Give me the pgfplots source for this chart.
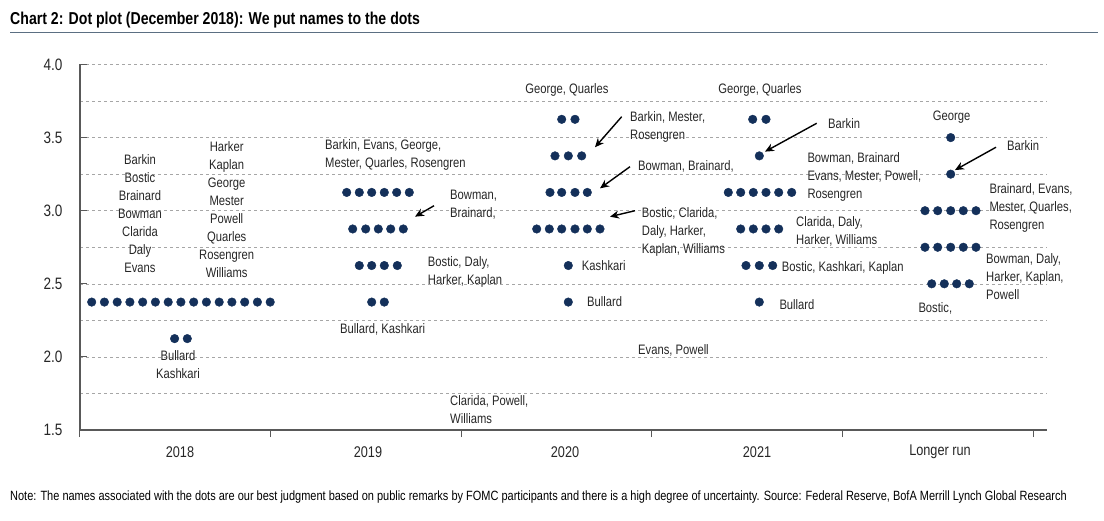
\documentclass[border=0pt]{standalone}
\usepackage{fontspec}
\setmainfont{Liberation Sans}[FakeStretch=0.82]
\usepackage{pgfplots}
\pgfplotsset{compat=1.18}
\usepackage{pgfplotstable}
\usetikzlibrary{arrows.meta}
\definecolor{dotblue}{HTML}{14305A}
\definecolor{gridgray}{HTML}{A6A6A6}
\definecolor{axisgray}{HTML}{595959}
\definecolor{rulegray}{HTML}{5B6F82}

% x = horizontal position (layout, pixel units), y = rate (%)
\pgfplotstableread{
x y
91.7 2.375
104.4 2.375
117.2 2.375
129.9 2.375
142.7 2.375
155.4 2.375
168.2 2.375
180.9 2.375
193.7 2.375
206.4 2.375
219.2 2.375
231.9 2.375
244.7 2.375
257.4 2.375
270.2 2.375
174.6 2.125
187.3 2.125
}\yearA
\pgfplotstableread{
x y
346.7 3.125
359.3 3.125
371.7 3.125
384.3 3.125
396.7 3.125
409.3 3.125
352.7 2.875
365.7 2.875
378.3 2.875
390.7 2.875
403.3 2.875
359.3 2.625
371.7 2.625
384.3 2.625
397.3 2.625
371.7 2.375
384.3 2.375
}\yearB
\pgfplotstableread{
x y
561.7 3.625
575.0 3.625
555.0 3.375
568.3 3.375
581.7 3.375
550.0 3.125
561.7 3.125
575.0 3.125
587.3 3.125
536.7 2.875
549.3 2.875
561.7 2.875
575.0 2.875
587.3 2.875
600.0 2.875
568.3 2.625
568.3 2.375
}\yearC
\pgfplotstableread{
x y
752.7 3.625
766.0 3.625
759.3 3.375
728.3 3.125
740.7 3.125
753.3 3.125
766.0 3.125
778.7 3.125
791.7 3.125
740.7 2.875
753.3 2.875
766.0 2.875
778.7 2.875
746.0 2.625
759.3 2.625
772.7 2.625
759.3 2.375
}\yearD
\pgfplotstableread{
x y
950.7 3.50
950.7 3.25
925.0 3.00
937.7 3.00
950.7 3.00
963.3 3.00
976.0 3.00
925.0 2.75
937.7 2.75
950.7 2.75
963.3 2.75
976.0 2.75
931.7 2.50
944.3 2.50
956.7 2.50
969.3 2.50
}\yearE

\begin{document}
\begin{tikzpicture}[
  lab/.style={font=\fontsize{13.7}{18}\selectfont, inner sep=0pt, align=left, anchor=west, text=black!85},
  ctr/.style={font=\fontsize{13.7}{18}\selectfont, inner sep=0pt, align=center, anchor=center, text=black!85},
  arr/.style={-{Stealth[length=9pt,width=8pt]}, line width=1.4pt, black}
]
\useasboundingbox (0,0) rectangle (1104pt,520pt);
\node[anchor=west, inner sep=0pt, font=\fontsize{17.2}{20}\selectfont\bfseries] at (10pt,500pt) {Chart 2: Dot plot (December 2018): We put names to the dots};
\draw[rulegray, line width=1pt] (10pt,487pt) -- (1098pt,487pt);
\node[anchor=west, inner sep=0pt, font=\fontsize{13.4}{15}\selectfont] at (10pt,23pt) {Note: The names associated with the dots are our best judgment based on public remarks by FOMC participants and there is a high degree of uncertainty. Source: Federal Reserve, BofA Merrill Lynch Global Research};

\begin{axis}[
  at={(80pt,90pt)}, anchor=south west,
  scale only axis, width=966.7pt, height=365.5pt,
  xmin=80, xmax=1046.7, ymin=1.5, ymax=4.0,
  clip=false,
  axis x line*=bottom, axis y line*=left,
  axis line style={draw=axisgray, line width=1.3pt},
  xtick={80,270.7,461.7,651.7,842.7,1033.3},
  xticklabels={},
  x tick style={draw=axisgray, line width=1pt},
  xtick pos=bottom,
  tick align=outside,
  major tick length=7pt,
  ytick={1.5,2.0,2.5,3.0,3.5,4.0},
  y tick style={draw=axisgray, line width=1pt},
  ytick align=inside,
  minor ytick={1.75,2.25,2.75,3.25,3.75},
  minor tick length=0pt,
  ymajorgrids, yminorgrids,
  major grid style={gridgray, dashed, line width=0.6pt},
  minor grid style={gridgray, dashed, line width=0.6pt},
  yticklabel style={font=\fontsize{16.5}{18}\selectfont, text=black!85, xshift=-14pt},
  /pgf/number format/assume math mode=true,
  /pgf/number format/.cd, fixed, fixed zerofill, precision=1,
]
\addplot[only marks, mark=*, mark size=4.3pt, color=dotblue] table {\yearA};
\addplot[only marks, mark=*, mark size=4.3pt, color=dotblue] table {\yearB};
\addplot[only marks, mark=*, mark size=4.3pt, color=dotblue] table {\yearC};
\addplot[only marks, mark=*, mark size=4.3pt, color=dotblue] table {\yearD};
\addplot[only marks, mark=*, mark size=4.3pt, color=dotblue] table {\yearE};

% category labels
\node[ctr, font=\fontsize{15.5}{18}\selectfont] at (axis cs:180,1.5) [yshift=-22pt] {2018};
\node[ctr, font=\fontsize{15.5}{18}\selectfont] at (axis cs:368,1.5) [yshift=-22pt] {2019};
\node[ctr, font=\fontsize{15.5}{18}\selectfont] at (axis cs:565,1.5) [yshift=-22pt] {2020};
\node[ctr, font=\fontsize{15.5}{18}\selectfont] at (axis cs:757,1.5) [yshift=-22pt] {2021};
\node[ctr, font=\fontsize{15.5}{18}\selectfont] at (axis cs:940,1.5) [yshift=-22pt] {Longer run};

% 2018
\node[ctr] at (axis cs:140,2.977) {Barkin\\Bostic\\Brainard\\Bowman\\Clarida\\Daly\\Evans};
\node[ctr] at (axis cs:226.7,3.006) {Harker\\Kaplan\\George\\Mester\\Powell\\Quarles\\Rosengren\\Williams};
\node[ctr] at (axis cs:178,1.946) {Bullard\\Kashkari};

% 2019
\node[lab] at (axis cs:325,3.382) {Barkin, Evans, George,\\Mester, Quarles, Rosengren};
\node[lab] at (axis cs:450,3.042) {Bowman,\\Brainard,};
\draw[arr] (axis cs:434,3.034) -- (axis cs:415,2.959);
\node[lab] at (axis cs:427.7,2.578) {Bostic, Daly,\\Harker, Kaplan};
\node[lab] at (axis cs:340,2.191) {Bullard, Kashkari};
\node[lab] at (axis cs:450,1.637) {Clarida, Powell,\\Williams};

% 2020
\node[ctr] at (axis cs:567,3.826) {George, Quarles};
\node[lab] at (axis cs:630,3.573) {Barkin, Mester,\\Rosengren};
\draw[arr] (axis cs:621.7,3.643) -- (axis cs:595,3.434);
\node[lab] at (axis cs:638,3.306) {Bowman, Brainard,};
\draw[arr] (axis cs:630,3.301) -- (axis cs:600,3.153);
\node[lab] at (axis cs:641.7,2.854) {Bostic, Clarida,\\Daly, Harker,\\Kaplan, Williams};
\draw[arr] (axis cs:635,3.0) -- (axis cs:610,2.959);
\node[lab] at (axis cs:581.7,2.622) {Kashkari};
\node[lab] at (axis cs:587,2.376) {Bullard};
\node[lab] at (axis cs:638,2.047) {Evans, Powell};

% 2021
\node[ctr] at (axis cs:760,3.826) {George, Quarles};
\node[lab] at (axis cs:828,3.593) {Barkin};
\draw[arr] (axis cs:816.7,3.598) -- (axis cs:765,3.404);
\node[lab] at (axis cs:807.3,3.233) {Bowman, Brainard\\Evans, Mester, Powell,\\Rosengren};
\node[lab] at (axis cs:796,2.859) {Clarida, Daly,\\Harker, Williams};
\node[lab] at (axis cs:781.7,2.608) {Bostic, Kashkari, Kaplan};
\node[lab] at (axis cs:779.3,2.355) {Bullard};

% Longer run
\node[ctr] at (axis cs:951.7,3.639) {George};
\node[lab] at (axis cs:1007,3.446) {Barkin};
\draw[arr] (axis cs:996,3.434) -- (axis cs:955,3.278);
\node[lab] at (axis cs:989.3,3.016) {Brainard, Evans,\\Mester, Quarles,\\Rosengren};
\node[lab] at (axis cs:986,2.551) {Bowman, Daly,\\Harker, Kaplan,\\Powell};
\node[lab] at (axis cs:918.3,2.334) {Bostic,};
\end{axis}
\end{tikzpicture}
\end{document}
